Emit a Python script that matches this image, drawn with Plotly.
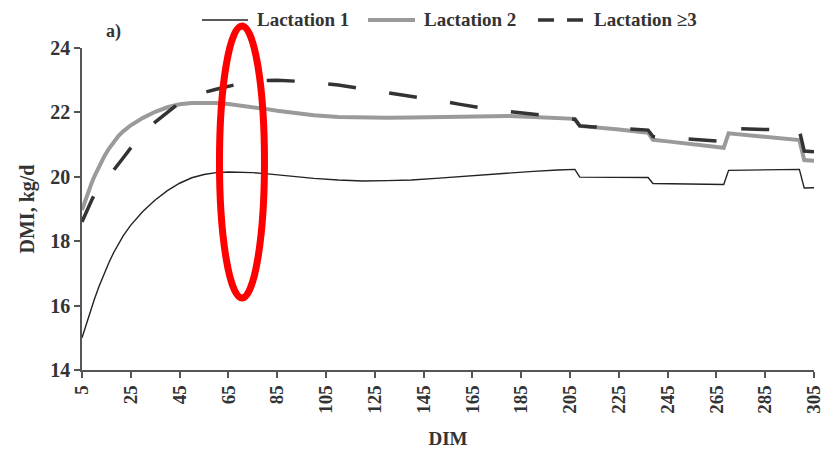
import math
import plotly.graph_objects as go

dim = [5, 6, 7, 8, 9, 10, 12, 14, 16, 18, 20, 22, 25, 30, 35, 40, 45, 50, 55, 60, 65, 70,
       75, 80, 85, 90, 95, 100, 110, 120, 130, 140, 150, 160, 170, 180, 190, 200, 207, 209,
       215, 225, 237, 239, 245, 255, 268, 270, 280, 290, 299, 301, 305]

lact1 = [15.0, 15.25, 15.5, 15.73, 15.96, 16.18, 16.6, 16.98, 17.33, 17.65, 17.93, 18.18,
         18.5, 18.93, 19.28, 19.57, 19.8, 19.97, 20.07, 20.13, 20.15, 20.15,
         20.13, 20.1, 20.06, 20.02, 19.98, 19.95, 19.9, 19.87, 19.88, 19.9, 19.95, 20.01,
         20.07, 20.12, 20.17, 20.21, 20.23, 19.99,
         19.99, 19.99, 19.98, 19.79, 19.78, 19.77, 19.76, 20.2, 20.21, 20.22, 20.23, 19.65, 19.66]

lact2 = [18.97, 19.2, 19.42, 19.62, 19.82, 20.0, 20.33, 20.62, 20.87, 21.08, 21.27, 21.42,
         21.6, 21.83, 22.02, 22.16, 22.25, 22.29, 22.3, 22.29, 22.26, 22.22,
         22.17, 22.11, 22.05, 22.0, 21.95, 21.91, 21.86, 21.83, 21.83, 21.84, 21.85, 21.87,
         21.89, 21.89, 21.86, 21.83, 21.8, 21.58,
         21.55, 21.47, 21.37, 21.15, 21.1, 21.0, 20.9, 21.35, 21.28, 21.2, 21.14, 20.52, 20.5]

lact3 = [18.6, 18.78, 18.95, 19.12, 19.28, 19.43, 19.62, 19.83, 20.02, 20.2, 20.4, 20.6,
         20.9, 21.33, 21.7, 22.0, 22.3, 22.48, 22.62, 22.72, 22.82, 22.9,
         22.95, 22.99, 23.0, 22.99, 22.96, 22.93, 22.85, 22.73, 22.62, 22.5, 22.38, 22.25,
         22.12, 22.03, 21.95, 21.86, 21.78, 21.58,
         21.55, 21.5, 21.45, 21.25, 21.22, 21.15, 21.1, 21.5, 21.48, 21.46, 21.44, 20.8, 20.78]

series_names = ["Lactation 1", "Lactation 2", "Lactation ≥3"]
x_ticks = list(range(5, 306, 20))
y_ticks = [14, 16, 18, 20, 22, 24]

FONT = "Liberation Serif"
TXT = "#333333"

# plot area size in px (836 - 82 - 22, 449 - 48 - 79)
PW, PH = 732, 322
X_RANGE, Y_RANGE = [5, 305], [14, 24]

# choose a dash gap so the dashed line ends inside a dash (as in the reference)
sx = PW / (X_RANGE[1] - X_RANGE[0])
sy = PH / (Y_RANGE[1] - Y_RANGE[0])
path_len = sum(math.hypot((dim[i + 1] - dim[i]) * sx, (lact3[i + 1] - lact3[i]) * sy)
               for i in range(len(dim) - 1))
DASH = 28
best_gap, best_err = 32, 1e9
g = 29.0
while g <= 35.0:
    r = path_len % (DASH + g)
    err = abs(r - 27)
    if err < best_err:
        best_gap, best_err = g, err
    g += 0.1
dash3 = f"{DASH}px,{best_gap:.1f}px"

styles = [dict(color="#222222", width=1.4),
          dict(color="#9a9a9a", width=4),
          dict(color="#333333", width=3.5, dash=dash3)]

fig = go.Figure()
for name, ys, st in zip(series_names, [lact1, lact2, lact3], styles):
    fig.add_trace(go.Scatter(x=dim, y=ys, mode="lines", name=name, line=st,
                             showlegend=False))

# custom legend (paper coordinates)
leg_y = 1.087
leg_lines = [(0.1639, 0.2268), (0.3907, 0.4549), (0.6230, 0.6844)]
leg_text_x = [0.2363, 0.4645, 0.6967]
leg_styles = [dict(color="#222222", width=1.5),
              dict(color="#9a9a9a", width=4),
              dict(color="#333333", width=3.5, dash="16px,13px")]
shapes = []
annotations = []
for (x0, x1), tx, st, name in zip(leg_lines, leg_text_x, leg_styles, series_names):
    shapes.append(dict(type="line", xref="paper", yref="paper", x0=x0, x1=x1,
                       y0=leg_y, y1=leg_y, line=st, layer="above"))
    annotations.append(dict(text=name, xref="paper", yref="paper", x=tx, y=leg_y + 0.003,
                            xanchor="left", yanchor="middle", showarrow=False,
                            font=dict(family=FONT, size=19, color=TXT, weight="bold")))

annotations.append(dict(text="a)", xref="paper", yref="paper", x=0.03, y=1.05,
                        xanchor="left", yanchor="middle", showarrow=False,
                        font=dict(family=FONT, size=18, color=TXT, weight="bold")))

shapes.append(dict(type="circle", xref="paper", yref="paper",
                   x0=0.1878, x1=0.2493, y0=0.2236, y1=1.0683,
                   line=dict(color="red", width=7), layer="above"))

fig.update_layout(
    template="none",
    width=836, height=449,
    margin=dict(l=82, r=22, t=48, b=79, autoexpand=False),
    paper_bgcolor="white", plot_bgcolor="white",
    font=dict(family=FONT, size=19, color=TXT, weight="bold"),
    showlegend=False,
    xaxis=dict(range=X_RANGE, tickvals=x_ticks, tickangle=-90, automargin=False,
               showgrid=False, zeroline=False, showline=True, linecolor="#555555", linewidth=1.5,
               ticks="outside", ticklen=6, tickcolor="#555555", tickwidth=1.5,
               tickfont=dict(family=FONT, size=19, color=TXT, weight="bold"),
               title=dict(text="DIM", font=dict(family=FONT, size=19, color=TXT, weight="bold"),
                          standoff=20)),
    yaxis=dict(range=Y_RANGE, tickvals=y_ticks, automargin=False,
               showgrid=False, zeroline=False, showline=True, linecolor="#555555", linewidth=1.5,
               ticks="outside", ticklen=6, tickcolor="#555555", tickwidth=1.5,
               tickfont=dict(family=FONT, size=20, color=TXT, weight="bold"),
               title=dict(text="DMI, kg/d", font=dict(family=FONT, size=20, color=TXT, weight="bold"),
                          standoff=10)),
    annotations=annotations,
    shapes=shapes,
)

fig.write_html("out.html")
